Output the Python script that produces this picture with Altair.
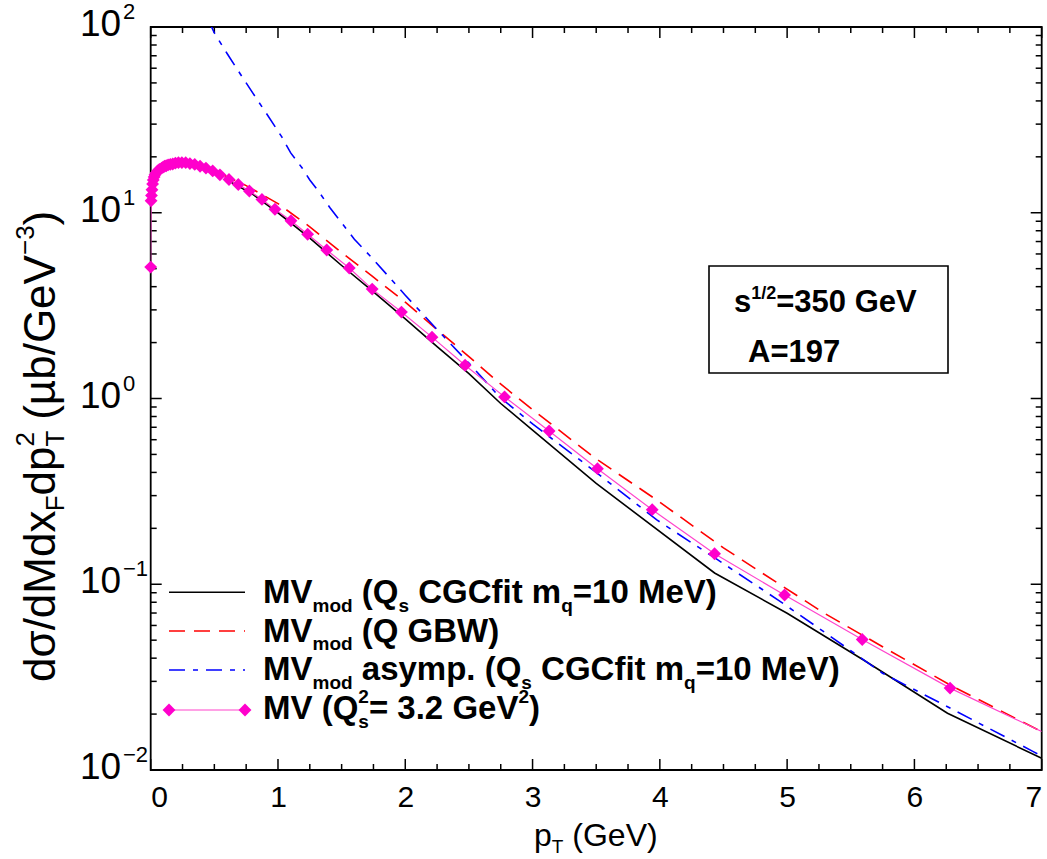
import math
import altair as alt
import pandas as pd

# ---------------- data ----------------
mv_pt = [0.0, 0.003, 0.006, 0.01, 0.015, 0.02, 0.027, 0.034, 0.043, 0.054, 0.068,
         0.086, 0.097, 0.109, 0.122, 0.137, 0.154, 0.173, 0.194, 0.218, 0.245,
         0.275, 0.308, 0.346, 0.388, 0.434, 0.487, 0.544, 0.615, 0.688, 0.775,
         0.874, 0.976, 1.102, 1.233, 1.383, 1.56, 1.74, 1.97, 2.21, 2.47, 2.78,
         3.13, 3.51, 3.94, 4.43, 4.98, 5.59, 6.28, 7.0]
mv_val = [5.1, 11.6, 12.4, 13.3, 14.3, 15.0, 15.6, 16.0, 16.4, 16.8, 17.1,
          17.4, 17.6, 17.8, 17.9, 18.1, 18.2, 18.3, 18.5, 18.6, 18.6,
          18.6, 18.4, 18.2, 17.8, 17.4, 16.8, 16.0, 15.1, 14.2, 13.1,
          11.8, 10.44, 9.06, 7.66, 6.30, 5.04, 3.88, 2.92, 2.14, 1.51, 1.02,
          0.668, 0.419, 0.252, 0.146, 0.0875, 0.0504, 0.0276, 0.0161]

cgc_pt = [0.6, 0.8, 1.0, 1.25, 1.5, 1.75, 2.0, 2.25, 2.5, 2.75, 3.0, 3.5,
          4.43, 5.0, 5.6, 6.26, 7.0]
cgc_val = [15.0, 12.6, 10.0, 7.3, 5.2, 3.75, 2.68, 1.9, 1.36, 0.94, 0.676, 0.349,
           0.115, 0.0698, 0.0391, 0.0202, 0.01156]

gbw_pt = [0.55, 0.75, 1.0, 1.25, 1.5, 1.75, 2.0, 2.25, 2.5, 2.74, 3.0, 3.5,
          3.976, 4.5, 4.93, 5.3, 5.75, 6.3, 7.0]
gbw_val = [16.2, 14.0, 11.2, 8.4, 6.1, 4.5, 3.3, 2.35, 1.68, 1.21, 0.87, 0.473,
           0.284, 0.157, 0.101, 0.0693, 0.0461, 0.0282, 0.0161]

asy_pt = [0.45, 0.5, 0.6, 0.7, 0.8, 0.9, 1.03, 1.1, 1.19, 1.25, 1.32, 1.41,
          1.6, 1.75, 2.0, 2.25, 2.5, 2.74, 3.0, 3.5, 3.976, 4.45, 4.93, 5.3,
          5.75, 6.3, 6.93, 7.0]
asy_val = [110, 93, 72, 56.4, 44.3, 35.0, 25.6, 21.0, 17.4, 15.0, 13.0, 10.6,
           7.2, 5.6, 3.6, 2.35, 1.55, 1.02, 0.73, 0.40, 0.222, 0.136, 0.0822, 0.0548,
           0.0332, 0.0212, 0.0126, 0.0119]

x_major = [0, 1, 2, 3, 4, 5, 6, 7]
x_minor = [i * 0.25 for i in range(29) if i % 4 != 0]
y_major = [0.01, 0.1, 1, 10, 100]
y_minor = [m * 10.0 ** e for e in (-2, -1, 0, 1) for m in range(2, 10)]
y_exp = ["\u22122", "\u22121", "0", "1", "2"]

# ---------------- layout ----------------
OX, OY = 150.7, 27.0          # screen position of plot origin
W, H = 891, 743
FONT = "Liberation Sans"

xs = alt.Scale(domain=[0, 7], nice=False, zero=False)
ys = alt.Scale(type="log", domain=[0.01, 100], nice=False)

REG = {" ": 278, "(": 333, ")": 333, "/": 278, "-": 333, "\u2212": 584, "=": 584,
       ".": 278, "G": 778, "M": 833, "T": 611, "F": 611, "V": 667, "a": 556,
       "b": 556, "d": 556, "e": 556, "o": 556, "p": 556, "x": 500, "\u00b5": 577,
       "\u03c3": 600}
BOLD = {" ": 278, "(": 333, ")": 333, "/": 278, "=": 584, ".": 278, "A": 722,
        "B": 722, "C": 722, "G": 778, "M": 833, "Q": 778, "V": 667, "W": 944,
        "a": 556, "c": 556, "d": 611, "e": 556, "f": 333, "i": 278, "m": 889,
        "n": 611, "o": 611, "p": 611, "q": 611, "s": 556, "t": 333, "y": 556}


def width(txt, size, bold):
    tab = BOLD if bold else REG
    return sum(tab.get(c, 556) for c in txt) * size / 1000.0


def rich(segs, sx, sy, bold, angle=0):
    """segs: (text, size, baseline shift, advance). Returns rows in plot coords."""
    rows = []
    s = 0.0
    for seg in segs:
        txt, size, shift = seg[0], seg[1], seg[2]
        adv = seg[3] if len(seg) > 3 else True
        lead = len(txt) - len(txt.lstrip(" "))
        s += lead * width(" ", size, bold)
        body = txt.strip(" ")
        if angle == 0:
            px, py = sx + s, sy + shift
        else:  # 270: reading bottom to top
            px, py = sx + shift, sy - s
        rows.append({"px": px - OX, "py": py - OY, "t": body, "size": size,
                     "angle": angle, "bold": bold})
        if adv:
            s += width(txt.lstrip(" "), size, bold)
    return rows


rows = []
# legend texts
LF, LS = 33, 19
lx = 263
lb = [603.3, 641.7, 680.0, 719.0]
rows += rich([("MV", LF, 0), ("mod", LS, 8.5), (" (Q", LF, 0), ("s", LS, 8.5),
              (" CGCfit m", LF, 0), ("q", LS, 8.5), ("=10 MeV)", LF, 0)], lx, lb[0], True)
rows += rich([("MV", LF, 0), ("mod", LS, 8.5), (" (Q GBW)", LF, 0)], lx, lb[1], True)
rows += rich([("MV", LF, 0), ("mod", LS, 8.5), (" asymp. (Q", LF, 0), ("s", LS, 8.5),
              (" CGCfit m", LF, 0), ("q", LS, 8.5), ("=10 MeV)", LF, 0)], lx, lb[2], True)
rows += rich([("MV (Q", LF, 0), ("s", LS, 8.5, False), ("2", LS, -16), ("= 3.2 GeV", LF, 0),
              ("2", LS, -16), (")", LF, 0)], lx, lb[3], True)
# info box texts
rows += rich([("s", 31, 0), ("1/2", 18, -13), ("=350 GeV", 31, 0)], 734, 312, True)
rows += rich([("A=197", 31, 0)], 748, 362, True)
# y tick labels
for v, e in zip(y_major, y_exp):
    ty = OY + (2 - math.log10(v)) * (H / 4.0)
    rows += rich([("10", 37, 0)], 80, ty + 9, False)
    rows += rich([(e, 22, 0)], 123, ty - 8, False)
# x title
rows += rich([("p", 32, 0), ("T", 19, 7), (" (GeV)", 32, 0)], 534, 846, False)
# y title (rotated)
rows += rich([("d\u03c3/dMdx", 44, 0), ("F", 26, 9), ("dp", 44, 0), ("T", 26, 9, False),
              ("2", 26, -21), (" (\u00b5b/GeV", 44, 0), ("\u22123", 26, -21), (")", 44, 0)],
             55, 682, False, angle=270)

tdf = pd.DataFrame(rows)

# ---------------- chart ----------------
def line_df(px, vals):
    return pd.DataFrame({"pt": px, "val": vals})

X = alt.X("pt:Q", scale=xs, axis=None)
Y = alt.Y("val:Q", scale=ys, axis=None)

cgc = alt.Chart(line_df(cgc_pt, cgc_val)).mark_line(
    color="black", strokeWidth=1.6, clip=True).encode(x=X, y=Y)
gbw = alt.Chart(line_df(gbw_pt, gbw_val)).mark_line(
    color="#ff0000", strokeWidth=1.6, strokeDash=[16, 9], clip=True).encode(x=X, y=Y)
asy = alt.Chart(line_df(asy_pt, asy_val)).mark_line(
    color="#0000ff", strokeWidth=1.6, strokeDash=[16, 8, 5, 8], clip=True).encode(x=X, y=Y)
mvl = alt.Chart(line_df(mv_pt, mv_val)).mark_line(
    color="#ff44cc", strokeWidth=1.2, clip=True).encode(x=X, y=Y)
mvp = alt.Chart(line_df(mv_pt, mv_val)).transform_filter("datum.pt < 6.9").mark_point(
    shape="diamond", filled=True, size=165, color="#ff00cc", opacity=1).encode(x=X, y=Y)

# x axis labels via an axis with no ticks
xlab = alt.Chart(pd.DataFrame({"pt": x_major})).mark_point(opacity=0).encode(
    x=alt.X("pt:Q", scale=xs, axis=alt.Axis(values=x_major, format="d", tickSize=0,
            domain=False, grid=False, labelFontSize=30, labelFont=FONT,
            labelColor="black", labelPadding=12, title=None)))

# ticks (inward) on all four sides
xmaj = pd.DataFrame({"pt": x_major})
xmin = pd.DataFrame({"pt": x_minor})
ymaj = pd.DataFrame({"val": y_major})
ymin = pd.DataFrame({"val": y_minor})
tk = dict(color="black", strokeWidth=1.5)
ticks = [
    alt.Chart(xmaj).mark_rule(**tk).encode(x=X, y=alt.value(H), y2=alt.value(H - 11)),
    alt.Chart(xmin).mark_rule(**tk).encode(x=X, y=alt.value(H), y2=alt.value(H - 6)),
    alt.Chart(xmaj).mark_rule(**tk).encode(x=X, y=alt.value(0), y2=alt.value(11)),
    alt.Chart(xmin).mark_rule(**tk).encode(x=X, y=alt.value(0), y2=alt.value(6)),
    alt.Chart(ymaj).mark_rule(**tk).encode(y=Y, x=alt.value(0), x2=alt.value(11)),
    alt.Chart(ymin).mark_rule(**tk).encode(y=Y, x=alt.value(0), x2=alt.value(6)),
    alt.Chart(ymaj).mark_rule(**tk).encode(y=Y, x=alt.value(W), x2=alt.value(W - 11)),
    alt.Chart(ymin).mark_rule(**tk).encode(y=Y, x=alt.value(W), x2=alt.value(W - 6)),
]

# legend samples
leg = pd.DataFrame({"row": [0, 1, 2, 3], "ly": [592.3 - OY, 631 - OY, 670 - OY, 710 - OY]})
lx1, lx2 = 169 - OX, 245 - OX
legs = [
    alt.Chart(leg).transform_filter("datum.row == 0").mark_rule(color="black", strokeWidth=1.6)
    .encode(x=alt.value(lx1), x2=alt.value(lx2), y=alt.Y("ly:Q", scale=None)),
    alt.Chart(leg).transform_filter("datum.row == 1").mark_rule(color="#ff0000", strokeWidth=1.6,
        strokeDash=[16, 9]).encode(x=alt.value(lx1), x2=alt.value(lx2), y=alt.Y("ly:Q", scale=None)),
    alt.Chart(leg).transform_filter("datum.row == 2").mark_rule(color="#0000ff", strokeWidth=1.6,
        strokeDash=[16, 8, 5, 8]).encode(x=alt.value(lx1), x2=alt.value(lx2), y=alt.Y("ly:Q", scale=None)),
    alt.Chart(leg).transform_filter("datum.row == 3").mark_rule(color="#ff44cc", strokeWidth=1.2)
    .encode(x=alt.value(lx1), x2=alt.value(lx2), y=alt.Y("ly:Q", scale=None)),
    alt.Chart(pd.DataFrame({"lx": [lx1, lx2], "ly": [710 - OY, 710 - OY]})).mark_point(
        shape="diamond", filled=True, size=165, color="#ff00cc", opacity=1)
    .encode(x=alt.X("lx:Q", scale=None), y=alt.Y("ly:Q", scale=None)),
]

# info box
box = alt.Chart(pd.DataFrame({"x1": [709 - OX], "x2": [948 - OX], "y1": [266 - OY], "y2": [373 - OY]})
                ).mark_rect(fill="white", stroke="black", strokeWidth=1.6).encode(
    x=alt.X("x1:Q", scale=None), x2="x2:Q", y=alt.Y("y1:Q", scale=None), y2="y2:Q")

TX = alt.X("px:Q", scale=None)
TY = alt.Y("py:Q", scale=None)
txt_b = alt.Chart(tdf).transform_filter("datum.bold").mark_text(
    align="left", baseline="alphabetic", font=FONT, fontWeight="bold", color="black").encode(
    x=TX, y=TY, text="t:N", size=alt.Size("size:Q", scale=None, legend=None),
    angle=alt.Angle("angle:Q", scale=None))
txt_r = alt.Chart(tdf).transform_filter("!datum.bold").mark_text(
    align="left", baseline="alphabetic", font=FONT, color="black").encode(
    x=TX, y=TY, text="t:N", size=alt.Size("size:Q", scale=None, legend=None),
    angle=alt.Angle("angle:Q", scale=None))

chart = alt.layer(
    xlab, *ticks, cgc, gbw, asy, mvl, mvp, box, *legs, txt_b, txt_r
).resolve_scale(x="independent", y="independent").properties(
    width=W, height=H, autosize=alt.AutoSizeParams(type="none"),
    padding={"left": OX, "top": OY, "right": 1047 - OX - W, "bottom": 859 - OY - H},
    background="white"
).configure_view(stroke="black", strokeWidth=1.8)

chart.save("out.html", embed_options={"renderer": "svg", "actions": False})
